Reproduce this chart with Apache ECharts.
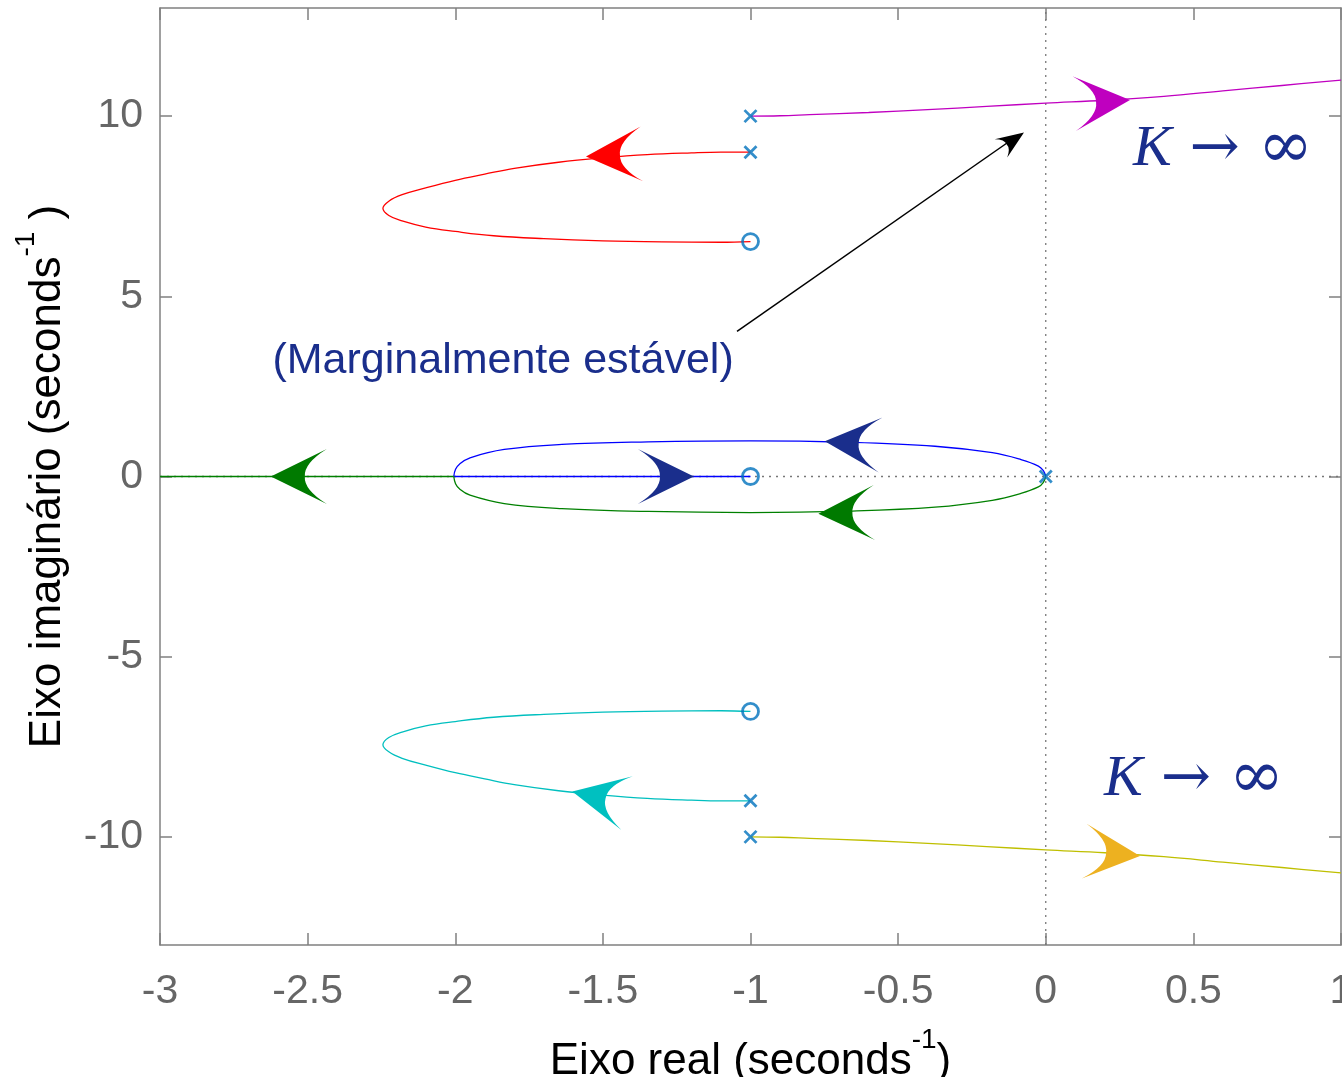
<!DOCTYPE html>
<html><head><meta charset="utf-8">
<script src="https://cdn.jsdelivr.net/npm/echarts@6/dist/echarts.min.js"></script>
<style>html,body{margin:0;padding:0;background:#fff}#c{width:1342px;height:1077px}</style>
</head><body><div id="c"></div>
<script>
// ---- data ----
const xTicks = [-3, -2.5, -2, -1.5, -1, -0.5, 0, 0.5, 1];
const yTicks = [-10, -5, 0, 5, 10];
const poles = [[-1, 10], [-1, 9], [0, 0], [-1, -9], [-1, -10]];
const zeros = [[-1, 6.52], [-1, 0], [-1, -6.52]];
const magentaLocus = [[-1,10],[-0.9,10.01],[-0.8,10.04],[-0.6,10.1],[-0.4,10.18],[-0.2,10.27],[0,10.36],[0.2,10.44],[0.4,10.55],[0.6,10.7],[0.8,10.85],[1.0,11.0]];
const yellowLocus = [[-1,-10],[-0.9,-10.01],[-0.8,-10.04],[-0.6,-10.1],[-0.4,-10.18],[-0.2,-10.27],[0,-10.36],[0.2,-10.44],[0.4,-10.55],[0.6,-10.7],[0.8,-10.85],[1.0,-11.0]];
const redLocus = [[-1.0,9.0],[-1.1,9.0],[-1.2,8.98],[-1.35,8.93],[-1.5,8.84],[-1.65,8.72],[-1.8,8.55],[-1.9,8.39],[-2.0,8.22],[-2.1,8.01],[-2.18,7.82],[-2.225,7.64],[-2.245,7.44],[-2.225,7.24],[-2.18,7.09],[-2.1,6.92],[-2.0,6.8],[-1.87,6.68],[-1.7,6.6],[-1.5,6.54],[-1.3,6.51],[-1.1,6.5],[-1.0,6.52]];
const cyanLocus = [[-1.0,-9.0],[-1.1,-9.0],[-1.2,-8.98],[-1.35,-8.93],[-1.5,-8.84],[-1.65,-8.72],[-1.8,-8.55],[-1.9,-8.39],[-2.0,-8.22],[-2.1,-8.01],[-2.18,-7.82],[-2.225,-7.64],[-2.245,-7.44],[-2.225,-7.24],[-2.18,-7.09],[-2.1,-6.92],[-2.0,-6.8],[-1.87,-6.68],[-1.7,-6.6],[-1.5,-6.54],[-1.3,-6.51],[-1.1,-6.5],[-1.0,-6.52]];
const blueArc = [[0,0],[-0.008,0.16],[-0.025,0.29],[-0.084,0.47],[-0.181,0.66],[-0.375,0.84],[-0.667,0.95],[-1.0,0.99],[-1.347,0.96],[-1.639,0.89],[-1.834,0.75],[-1.95,0.52],[-1.985,0.35],[-1.999,0.2],[-2.005,0]];
const blueAxis = [[-2.005,0],[-1,0]];
const greenArc = [[0,0],[-0.008,-0.16],[-0.025,-0.29],[-0.084,-0.47],[-0.181,-0.66],[-0.375,-0.85],[-0.667,-0.96],[-1.0,-1.0],[-1.347,-0.97],[-1.639,-0.89],[-1.834,-0.75],[-1.95,-0.52],[-1.985,-0.35],[-1.999,-0.2],[-2.005,0]];
const greenAxis = [[-2.005,0],[-3,0]];
// arrow heads: [tipX, tipY, backX, backY]
const magentaArrow = [[0.2854,10.444,0.0991,10.347]];
const yellowArrow = [[0.3192,-10.528,0.1245,-10.389]];
const redArrow = [[-1.5572,8.881,-1.3726,8.95]];
const cyanArrow = [[-1.6036,-8.742,-1.4224,-9.056]];
const blueArrows = [[-0.7484,0.981,-0.5617,0.875],[-1.1917,0,-1.3824,0]];
const greenArrows = [[-0.77,-1.036,-0.5803,-1.0],[-2.6247,0,-2.4391,0]];
const noteLine = [[-1.0457,4.028],[-0.09,9.49]];
const noteHead = [[-0.0737,9.547,-1.0457,4.028]];
const noteText = ['(Marginalmente estável)'];
const notePos = [[-1.838,3.19]];
const kPos = [[0.600,9.06],[0.502,-8.42]];
const xZeroLine = [[0,-13],[0,13]];
const yZeroLine = [[-3,0],[1,0]];

// ---- styles / helpers ----
const NAVY = '#1a2e8c';
const AXC = '#808080';
const FONT = 'Liberation Sans';

function rot(p, c, s, t) { return [t[0] + p[0]*c - p[1]*s, t[1] + p[0]*s + p[1]*c]; }
function arrowSeries(data, color, L, W, N) {
  return {
    type: 'custom', coordinateSystem: 'cartesian2d', data: data, z: 5,
    renderItem: function (params, api) {
      const tip = api.coord([api.value(0), api.value(1)]);
      const back = api.coord([api.value(2), api.value(3)]);
      const a = Math.atan2(tip[1]-back[1], tip[0]-back[0]);
      const c = Math.cos(a), s = Math.sin(a);
      const T = rot([0,0],c,s,tip), A = rot([-L,-W/2],c,s,tip), B = rot([-L,W/2],c,s,tip);
      const C = rot([-N,0],c,s,tip);
      const cA = rot([-N+1,-W*0.24],c,s,tip), cB = rot([-N+1,W*0.24],c,s,tip);
      const d = 'M'+T[0]+' '+T[1]+' L'+A[0]+' '+A[1]+' Q'+cA[0]+' '+cA[1]+' '+C[0]+' '+C[1]+
        ' Q'+cB[0]+' '+cB[1]+' '+B[0]+' '+B[1]+' Z';
      return { type: 'path', shape: { pathData: d }, style: { fill: color, stroke: null } };
    }
  };
}
function locus(data, color) {
  return { type: 'line', data: data, smooth: 0.4, symbol: 'none', z: 3,
    lineStyle: { color: color, width: 1.3 } };
}

const chart = echarts.init(document.getElementById('c'), null, { renderer: 'canvas' });
const nameRich = {
  b: { fontSize: 44, fontFamily: FONT, color: '#000', lineHeight: 72 },
  sup: { fontSize: 28, fontFamily: FONT, color: '#000', lineHeight: 28, verticalAlign: 'top' }
};
const baseX = {
  type: 'value', min: -3, max: 1, interval: 0.5,
  axisLine: { show: true, onZero: false, lineStyle: { color: AXC, width: 1.5 } },
  axisTick: { show: true, inside: true, length: 12, customValues: xTicks, lineStyle: { color: AXC, width: 1.5 } },
  splitLine: { show: false }
};
const baseY = {
  type: 'value', min: -13, max: 13,
  axisLine: { show: true, onZero: false, lineStyle: { color: AXC, width: 1.5 } },
  axisTick: { show: true, inside: true, length: 12, customValues: yTicks, lineStyle: { color: AXC, width: 1.5 } },
  splitLine: { show: false }
};

chart.setOption({
  animation: false,
  backgroundColor: '#fff',
  grid: { left: 160, right: 1, top: 8, bottom: 132, containLabel: false, outerBoundsMode: 'none' },
  xAxis: [
    Object.assign({}, baseX, {
      position: 'bottom',
      axisLabel: { show: true, customValues: xTicks, fontSize: 41, fontFamily: FONT, color: '#666', margin: 26, showMinLabel: true, showMaxLabel: true },
      name: '{b|Eixo real (seconds}{sup|-1}{b|)}', nameLocation: 'middle', nameGap: 81,
      nameTextStyle: { rich: nameRich }
    }),
    Object.assign({}, baseX, { position: 'top', axisLabel: { show: false } })
  ],
  yAxis: [
    Object.assign({}, baseY, {
      position: 'left',
      axisLabel: { show: true, customValues: yTicks, fontSize: 41, fontFamily: FONT, color: '#666', margin: 17 },
      name: '{b|Eixo imaginário (seconds}{sup|-1}{b| )}', nameLocation: 'middle', nameGap: 76,
      nameTextStyle: { rich: nameRich }
    }),
    Object.assign({}, baseY, { position: 'right', axisLabel: { show: false } })
  ],
  series: [
    { type: 'line', data: yZeroLine, symbol: 'none', z: 1, lineStyle: { color: '#777', width: 1.3, type: [2, 5] } },
    { type: 'line', data: xZeroLine, symbol: 'none', z: 1, lineStyle: { color: '#777', width: 1.3, type: [2, 5] } },
    locus(magentaLocus, '#c000c0'),
    locus(yellowLocus, '#bfbf00'),
    locus(redLocus, '#ff0000'),
    locus(cyanLocus, '#00bfbf'),
    locus(blueArc, '#0000ff'),
    locus(blueAxis, '#0000ff'),
    locus(greenArc, '#008000'),
    locus(greenAxis, '#008000'),
    { type: 'line', data: noteLine, symbol: 'none', z: 4, lineStyle: { color: '#000', width: 1.5 } },
    arrowSeries(noteHead, '#000', 28, 22, 21),
    arrowSeries(magentaArrow, '#bf00bf', 56, 55, 34),
    arrowSeries(yellowArrow, '#edb120', 56, 55, 34),
    arrowSeries(redArrow, '#ff0000', 56, 55, 34),
    arrowSeries(cyanArrow, '#00c0c0', 56, 55, 34),
    arrowSeries(blueArrows, NAVY, 56, 55, 34),
    arrowSeries(greenArrows, '#007a00', 56, 55, 34),
    {
      type: 'scatter', data: poles, z: 6,
      symbol: 'path://M0 0 L10 10 M10 0 L0 10', symbolSize: 12,
      itemStyle: { color: 'rgba(0,0,0,0)', borderColor: '#0072bd', borderWidth: 2.8 }
    },
    {
      type: 'scatter', data: zeros, z: 6, symbol: 'circle', symbolSize: 16,
      itemStyle: { color: 'rgba(0,0,0,0)', borderColor: '#0072bd', borderWidth: 2.8 }
    },
    {
      type: 'custom', coordinateSystem: 'cartesian2d', data: notePos, z: 7,
      renderItem: function (params, api) {
        const p = api.coord([api.value(0), api.value(1)]);
        return { type: 'text', x: p[0], y: p[1], style: {
          text: noteText[params.dataIndex], fill: NAVY, fontSize: 43, fontFamily: FONT,
          align: 'center', verticalAlign: 'middle' } };
      }
    },
    {
      type: 'custom', coordinateSystem: 'cartesian2d', data: kPos, z: 7,
      renderItem: function (params, api) {
        const p = api.coord([api.value(0), api.value(1)]);
        return { type: 'text', x: p[0], y: p[1], style: {
          text: '{k|K}{a|→}{i|∞}', align: 'center', verticalAlign: 'middle',
          rich: {
            k: { fill: NAVY, color: NAVY, fontSize: 58, fontStyle: 'italic', fontFamily: 'Liberation Serif', padding: [0, 18, 0, 0] },
            a: { fill: NAVY, color: NAVY, fontSize: 60, fontFamily: 'DejaVu Serif', padding: [0, 18, 0, 0] },
            i: { fill: NAVY, color: NAVY, fontSize: 66, fontFamily: 'DejaVu Serif' }
          } } };
      }
    }
  ]
});
</script></body></html>
